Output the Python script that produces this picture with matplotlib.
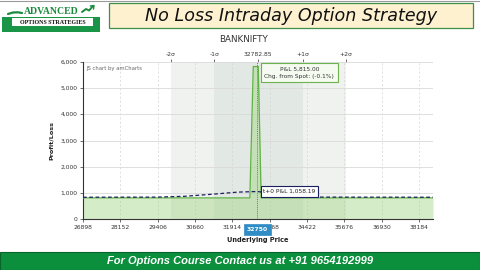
import matplotlib
matplotlib.use('Agg')
import matplotlib.pyplot as plt
from matplotlib.patches import Rectangle
from matplotlib.ticker import FuncFormatter

# ---------------- data ----------------
x_ticks = [26898, 28152, 29406, 30660, 31914, 33168, 34422, 35676, 36930, 38184]
y_ticks = [0, 1000, 2000, 3000, 4000, 5000, 6000]
x_min, x_max = 26898, 38650

price = [26898, 32500, 32615, 32783, 32880, 38650]
pnl = [815, 815, 5815, 5815, 815, 815]

t0_price = [26898, 29400, 30300, 31300, 32100, 32750, 33300, 34000, 34800, 38650]
t0_pnl = [840, 845, 875, 960, 1035, 1058.19, 975, 880, 845, 840]

sigma_labels = ['-2σ', '-1σ', '32782.85', '+1σ', '+2σ']
sigma_prices = [29850, 31310, 32782.85, 34270, 35730]

cursor_price = 32750
cursor_pnl = 5815.00
cursor_t0 = 1058.19
spot_change = '(-0.1%)'

title = 'No Loss Intraday Option Strategy'
subtitle = 'BANKNIFTY'
footer = 'For Options Course Contact us at +91 9654192999'

# ---------------- figure ----------------
W, H = 480, 270
fig = plt.figure(figsize=(W / 100, H / 100), dpi=100)
fig.patch.set_facecolor('white')

ax = fig.add_axes([83 / W, (H - 219.3) / H, 350 / W, 157.6 / H])
ax.set_xlim(x_min, x_max)
ax.set_ylim(0, 6000)

# sigma bands
ax.axvspan(sigma_prices[0], sigma_prices[4], color='#eff2ef', lw=0, zorder=0)
ax.axvspan(sigma_prices[1], sigma_prices[3], color='#e2e8e4', lw=0, zorder=0)

ax.set_axisbelow(True)
ax.yaxis.grid(True, color='#d9d9d9', lw=0.6)
ax.xaxis.grid(True, color='#d4d4d4', lw=0.5, ls=(0, (3, 3)))

# P&L at expiry
ax.fill_between(price, 0, pnl, color='#9dd47c', alpha=0.42, lw=0, zorder=2)
ax.plot(price, pnl, color='#5fb243', lw=0.9, zorder=3)

# t+0 line
ax.plot(t0_price, t0_pnl, color='#1b1f5e', lw=0.9, ls=(0, (3, 2)), zorder=4)

# cursor
ax.axvline(cursor_price, color='#3a8fb0', lw=0.7, ls=(0, (1, 1)), zorder=5)

for s in ['top', 'right']:
    ax.spines[s].set_visible(False)
for s in ['left', 'bottom']:
    ax.spines[s].set_color('#333333')
    ax.spines[s].set_linewidth(0.8)

ax.set_xticks(x_ticks)
ax.set_xticklabels([str(v) for v in x_ticks])
ax.set_yticks(y_ticks)
ax.yaxis.set_major_formatter(FuncFormatter(lambda v, p: f'{int(v):,}'))
ax.tick_params(axis='both', labelsize=4.3, length=2, width=0.5,
               colors='#333333', pad=2)

ax.set_ylabel('Profit/Loss', fontsize=4.6, fontweight='bold', color='#222222', labelpad=5)
ax.set_xlabel('Underlying Price', fontsize=4.8, fontweight='bold', color='#222222', labelpad=5)

secax = ax.secondary_xaxis('top')
secax.set_xticks(sigma_prices)
secax.set_xticklabels(sigma_labels)
secax.tick_params(labelsize=4.3, length=2, width=0.5, colors='#333333', pad=1.5)
secax.spines['top'].set_visible(False)

ax.text(0.01, 0.97, 'JS chart by amCharts', transform=ax.transAxes, fontsize=3.8,
        color='#666666', ha='left', va='top')

# tooltips
ax.annotate(f'P&L {cursor_pnl:,.2f}\nChg. from Spot: {spot_change}',
            xy=(cursor_price, cursor_pnl), xytext=(42, -6), textcoords='offset pixels',
            ha='center', va='center', fontsize=4.2, color='#333333', linespacing=1.6,
            bbox=dict(boxstyle='square,pad=0.6', fc='#f6fbf2', ec='#6cb24e', lw=0.8),
            zorder=10)
ax.annotate(f't+0 P&L {cursor_t0:,.2f}',
            xy=(cursor_price, cursor_t0), xytext=(32, 0), textcoords='offset pixels',
            ha='center', va='center', fontsize=4.2, color='#222222',
            bbox=dict(boxstyle='square,pad=0.45', fc='white', ec='#1b1f5e', lw=0.8),
            zorder=10)
ax.annotate(f'{cursor_price}', xy=(cursor_price, 0), xytext=(0, -10),
            textcoords='offset pixels', ha='center', va='center', fontsize=4.4,
            color='white', fontweight='bold',
            bbox=dict(boxstyle='square,pad=0.45', fc='#2f8cc4', ec='#2f8cc4', lw=0.5),
            zorder=10, annotation_clip=False)

# ---------------- overlay (header / footer) ----------------
ov = fig.add_axes([0, 0, 1, 1], zorder=20)
ov.set_xlim(0, W)
ov.set_ylim(H, 0)
ov.axis('off')
ov.patch.set_alpha(0)

ov.plot([0, W], [0.5, 0.5], color='#9a9a9a', lw=0.8)

# logo
ov.add_patch(Rectangle((2, 17), 98, 15, fc='#1a9447', ec='none'))
ov.add_patch(Rectangle((12, 18), 81, 8, fc='white', ec='none'))
ov.text(52.5, 22.2, 'OPTIONS STRATEGIES', fontsize=4.3, fontweight='bold',
        family='Liberation Serif', ha='center', va='center', color='#111111')
ov.text(51, 11.5, 'ADVANCED', fontsize=7, fontweight='bold', family='Liberation Serif',
        ha='center', va='center', color='#1a8a3c')
ov.plot([8, 13, 18, 22], [14, 12.5, 12.3, 13], color='#1a8a3c', lw=1.6, solid_capstyle='round')
ov.plot([82, 86, 89, 93], [12, 9, 10.5, 6], color='#1a8a3c', lw=1.4, solid_capstyle='round')
ov.plot([90.5, 94, 93.5], [6, 5.5, 9], color='#1a8a3c', lw=1.0)

# title box
ov.add_patch(Rectangle((109, 3), 364, 25, fc='#fdf1d0', ec='#3d8f4a', lw=0.9))
ov.text(291, 16, title, fontsize=12.6, style='italic', family='DejaVu Sans',
        ha='center', va='center', color='#111111')

ov.text(243.5, 39, subtitle, fontsize=6.3, ha='center', va='center', color='#333333')

# strip cutting the axis label, and the footer banner
ov.add_patch(Rectangle((0, 244), W, 8, fc='white', ec='none'))
ov.add_patch(Rectangle((0, 251.7), W, 18.3, fc='#0b8f3c', ec='#08652a', lw=0.8))
ov.text(240, 260.5, footer, fontsize=8.0, style='italic', fontweight='bold',
        family='Liberation Sans', ha='center', va='center', color='white')

fig.savefig('out.png', dpi=100, facecolor='white')
